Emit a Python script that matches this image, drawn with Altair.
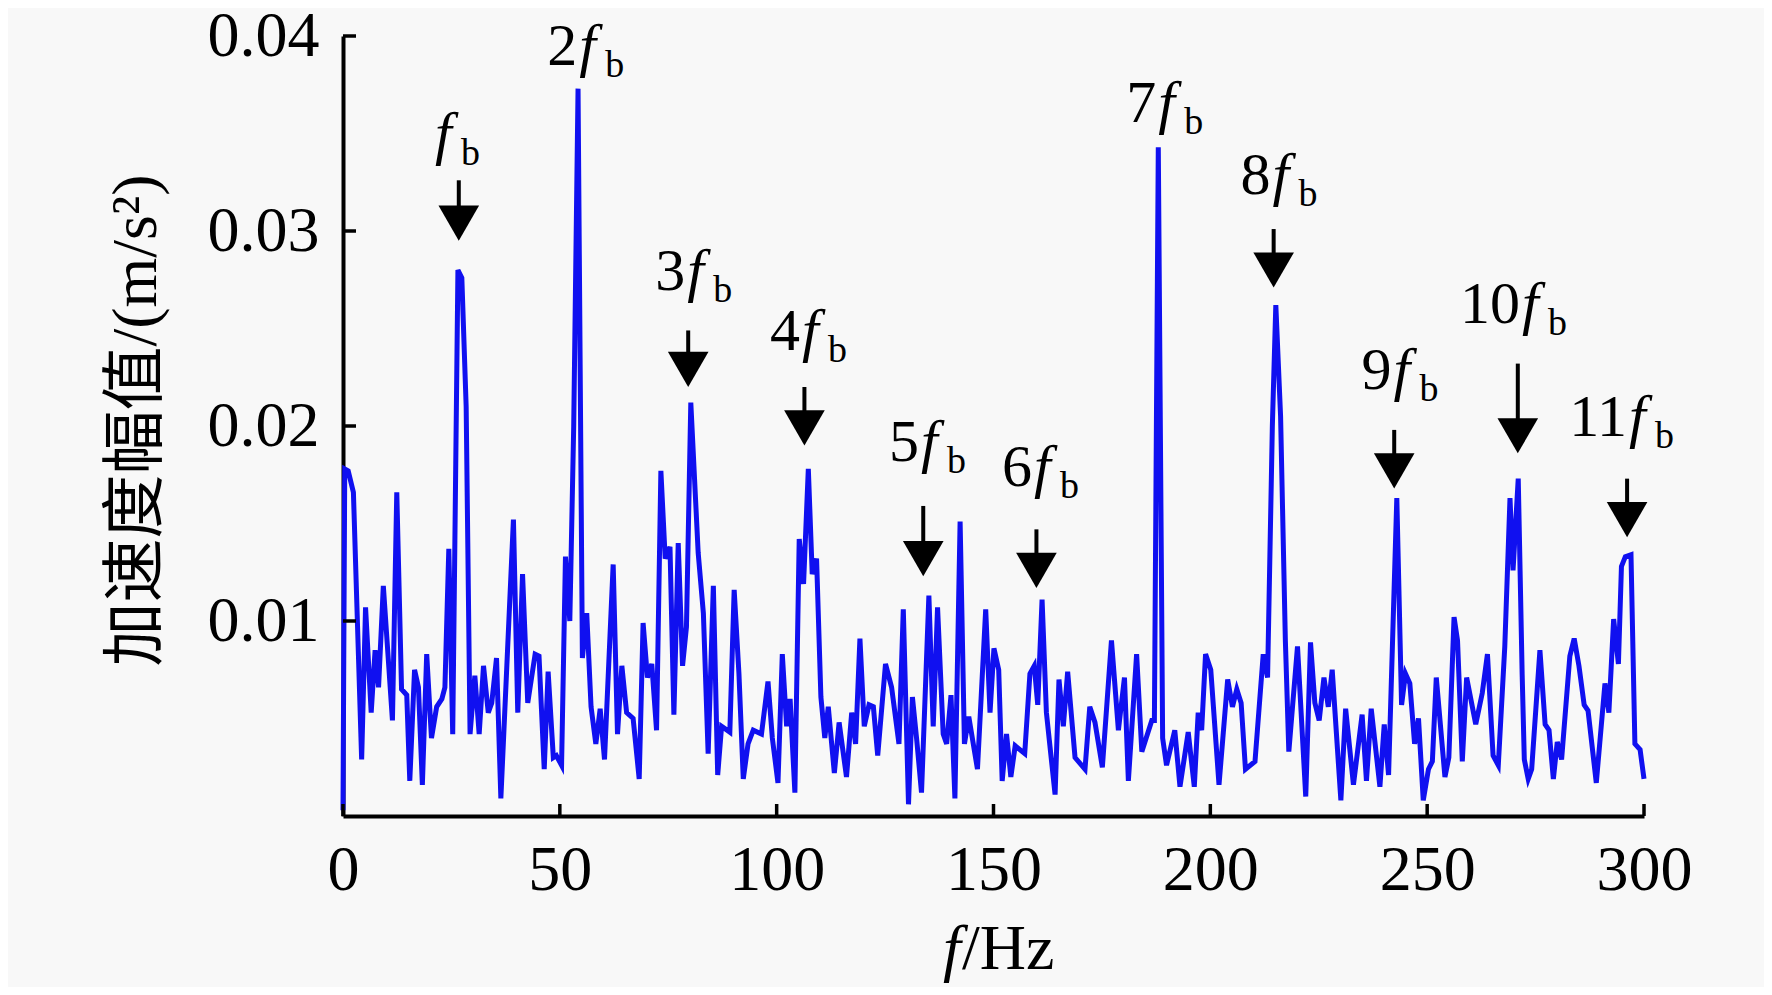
import altair as alt
import pandas as pd

# ---- spectrum (frequency in Hz, amplitude in 1e-3 m/s^2) ----
freq = [0.0, 0.4, 1.2, 2.4, 4.3, 5.2, 6.5, 7.4, 8.2, 9.3, 11.4, 12.4, 13.5, 14.7, 15.4, 16.5, 17.4, 18.3,
        19.3, 20.4, 21.6, 22.8, 23.5, 24.4, 25.3, 26.5, 27.4, 28.4, 29.3, 30.4, 31.4, 32.4, 33.5, 34.3,
        35.4, 36.4, 39.3, 40.3, 41.4, 42.6, 44.3, 45.2, 46.4, 47.3, 48.5, 49.2, 50.4, 51.3, 52.3, 53.2,
        54.2, 55.2, 56.2, 57.2, 58.3, 59.3, 60.3, 62.3, 63.3, 64.3, 65.4, 66.9, 68.3, 69.2, 70.2, 71.2,
        72.3, 73.3, 74.3, 75.4, 76.3, 77.3, 78.3, 79.2, 80.2, 81.9, 83.1, 84.2, 85.4, 86.4, 87.3, 89.2,
        90.2, 91.3, 92.3, 93.4, 94.6, 96.5, 98.0, 99.0, 100.3, 101.3, 102.3, 103.1, 104.2, 105.2, 106.2,
        107.3, 108.2, 109.2, 110.2, 111.1, 111.9, 113.3, 114.4, 116.1, 117.3, 118.2, 119.2, 120.2, 121.3,
        122.3, 123.3, 125.1, 126.5, 128.2, 129.2, 130.4, 131.3, 132.3, 133.4, 135.1, 136.1, 137.1, 138.4,
        139.2, 140.2, 141.1, 142.3, 143.3, 144.3, 146.3, 148.2, 149.2, 150.1, 151.2, 152.0, 153.0, 154.0,
        155.0, 157.2, 158.4, 159.4, 160.2, 161.2, 162.2, 164.2, 165.1, 166.1, 167.1, 168.8, 171.1, 172.2,
        173.4, 175.1, 177.2, 178.8, 180.2, 181.1, 183.0, 184.2, 186.5, 187.1, 188.0, 189.0, 189.9, 191.8,
        193.0, 194.9, 196.3, 197.2, 198.0, 198.9, 200.1, 202.0, 204.0, 205.1, 206.1, 207.1, 208.1, 210.3,
        212.2, 213.2, 214.3, 215.1, 216.2, 217.3, 218.1, 220.1, 222.0, 223.1, 224.1, 225.1, 226.2, 227.2,
        228.1, 230.1, 231.2, 233.0, 235.0, 236.0, 237.1, 239.1, 240.1, 241.1, 243.0, 244.1, 245.0, 246.0,
        247.1, 248.0, 249.1, 250.3, 251.2, 252.1, 254.1, 255.0, 256.2, 257.0, 258.1, 259.1, 261.2, 262.7,
        263.9, 265.2, 266.4, 267.9, 269.1, 269.8, 271.0, 271.9, 272.4, 273.3, 274.1, 276.0, 277.2, 278.1,
        279.1, 280.0, 281.0, 282.9, 283.9, 285.0, 286.2, 287.1, 289.0, 291.0, 291.9, 293.0, 294.1, 294.8,
        295.7, 297.0, 297.9, 299.1, 300.0]
amp_milli = [0.3, 17.8, 17.7, 16.6, 2.9, 10.7, 5.3, 8.5, 6.6, 11.8, 4.9, 16.6, 6.5, 6.2, 1.8, 7.5, 6.6, 1.6,
             8.3, 4.0, 5.6, 6.0, 6.6, 13.7, 4.2, 28.0, 27.6, 21.0, 4.2, 7.2, 4.2, 7.7, 5.3, 5.8,
             8.1, 0.9, 15.2, 5.3, 12.4, 5.8, 8.3, 8.2, 2.4, 7.4, 3.0, 3.1, 2.6, 13.3, 10.0, 20.0,
             37.3, 8.1, 10.4, 5.6, 3.7, 5.5, 2.9, 12.9, 4.2, 7.7, 5.3, 5.0, 1.9, 9.9, 7.1, 7.8,
             4.4, 17.7, 13.2, 13.8, 5.2, 14.0, 7.7, 9.7, 21.2, 13.5, 10.4, 3.2, 11.8, 2.1, 4.6, 4.3,
             11.6, 7.3, 1.9, 3.7, 4.4, 4.2, 6.9, 4.0, 1.7, 8.3, 4.6, 6.0, 1.2, 14.2, 11.9,
             17.8, 12.4, 13.2, 6.1, 4.0, 5.6, 2.2, 4.8, 2.0, 5.3, 3.7, 9.1, 4.6, 5.7,
             5.6, 3.1, 7.8, 6.6, 3.7, 10.6, 0.6, 6.1, 3.9, 1.2, 11.3, 4.6, 10.7, 4.2,
             3.7, 6.2, 0.9, 15.1, 3.7, 5.1, 2.4, 10.6, 5.3, 8.6, 7.5, 1.8, 4.2, 2.0,
             3.6, 3.2, 7.3, 7.7, 5.7, 11.1, 5.3, 1.1, 7.0, 4.6, 7.4, 3.0, 2.4, 5.6,
             4.8, 2.5, 9.0, 4.4, 7.1, 1.8, 8.3, 3.3, 4.9, 4.9, 34.3, 4.0, 2.6, 4.4,
             1.5, 4.3, 1.5, 5.3, 4.4, 8.3, 7.5, 1.6, 7.0, 5.6, 6.5, 5.8, 2.4, 2.8,
             8.3, 7.1, 20.0, 26.2, 20.5, 9.0, 3.3, 8.7, 1.0, 8.9, 5.8, 4.9, 7.1, 5.6,
             7.5, 0.8, 5.5, 1.6, 5.2, 1.8, 5.5, 1.5, 4.7, 2.1, 16.3, 5.7, 7.3, 6.8,
             3.7, 5.0, 0.8, 2.4, 2.8, 7.1, 2.0, 3.0, 10.2, 9.0, 2.8, 7.1, 4.7, 6.3,
             8.3, 3.1, 2.6, 8.7, 16.3, 12.6, 17.3, 7.3, 2.9, 1.9, 2.4, 8.5, 4.7, 4.4,
             1.9, 3.8, 2.9, 8.2, 9.1, 7.7, 5.7, 5.4, 1.7, 6.8, 5.3, 10.1, 7.8, 12.8,
             13.3, 13.4, 3.7, 3.4, 1.9]

x_ticks = [0, 50, 100, 150, 200, 250, 300]
y_ticks = [0.01, 0.02, 0.03, 0.04]

# ---- harmonic labels: multiplier, anchor (Hz), baseline (m/s^2) ----
label_num = ["", "2", "3", "4", "5", "6", "7", "8", "9", "10", "11"]
label_hz = [20.75, 54.0, 78.9, 105.4, 132.8, 158.9, 187.5, 213.9, 241.8, 271.4, 296.1]
label_amp = [0.0340, 0.0385, 0.0270, 0.0239, 0.0182, 0.0169, 0.0356, 0.0319, 0.0219, 0.0253, 0.0195]

# ---- arrows: x (Hz), shaft top, head centre (m/s^2) ----
arrow_hz = [26.7, 79.6, 106.4, 133.8, 159.9, 214.6, 242.4, 270.9, 296.1]
arrow_top = [0.0326, 0.0249, 0.0220, 0.0159, 0.0147, 0.0301, 0.0198, 0.0232, 0.0173]
arrow_head = [0.0304, 0.0229, 0.0199, 0.0132, 0.0126, 0.0280, 0.0177, 0.0195, 0.0152]

W, H = 1301, 780
SERIF = "Liberation Serif"
YTITLE = "加速度幅值/(m/s²)"

spec = pd.DataFrame({"hz": freq, "amp": [a * 1e-3 for a in amp_milli]})
labels = pd.DataFrame({"hz": label_hz, "amp": label_amp, "num": label_num})
arrows = pd.DataFrame({"hz": arrow_hz, "amp": arrow_top, "amp2": arrow_head})
heads = pd.DataFrame({"hz": arrow_hz, "amp": arrow_head})
xt = pd.DataFrame({"hz": x_ticks})
yt = pd.DataFrame({"amp": y_ticks})

xscale = alt.Scale(domain=[0, 300], nice=False, zero=False)
yscale = alt.Scale(domain=[0, 0.04], nice=False)

xaxis = alt.Axis(values=x_ticks, labelFont=SERIF, labelFontSize=64, labelColor="black",
                 ticks=False, grid=False, domainColor="black", domainWidth=4,
                 labelPadding=22, title=None, labelFlush=False)
yaxis = alt.Axis(values=y_ticks, format=".2f", labelFont=SERIF, labelFontSize=64, labelColor="black",
                 ticks=False, grid=False, domainColor="black", domainWidth=4, labelPadding=24,
                 title=YTITLE, titleFont="Liberation Serif, Noto Sans CJK SC", titleFontSize=64,
                 titleFontWeight="normal", titleColor="black", titleX=-207, titleY=H / 2 - 6,
                 titleBaseline="middle", titleAlign="center", titleAngle=270)

X = alt.X("hz:Q", scale=xscale, axis=xaxis)
Y = alt.Y("amp:Q", scale=yscale, axis=yaxis)

line = alt.Chart(spec).mark_line(color="#1010f0", strokeWidth=5).encode(x=X, y=Y, order="hz:Q")

xtick = alt.Chart(xt).mark_rule(color="black", strokeWidth=3.5).encode(
    x=X, y=alt.value(H), y2=alt.value(H - 12))
ytick = alt.Chart(yt).mark_rule(color="black", strokeWidth=3.5).encode(
    y=Y, x=alt.value(0), x2=alt.value(13))

shaft = alt.Chart(arrows).mark_rule(color="black", strokeWidth=4).encode(
    x=X, y=Y, y2=alt.Y2("amp2:Q"))
head = alt.Chart(heads).mark_point(shape="triangle-down", filled=True, size=1650,
                                   color="black", opacity=1, strokeWidth=0).encode(x=X, y=Y)

num_txt = alt.Chart(labels).mark_text(align="right", baseline="alphabetic", font=SERIF,
                                      fontSize=60, color="black").encode(x=X, y=Y, text="num:N")
f_txt = alt.Chart(labels).mark_text(align="left", baseline="alphabetic", font=SERIF, fontSize=60,
                                    fontStyle="italic", color="black", dx=2, text="f").encode(x=X, y=Y)
b_txt = alt.Chart(labels).mark_text(align="left", baseline="alphabetic", font=SERIF, fontSize=38,
                                    color="black", dx=28, dy=12, text="b").encode(x=X, y=Y)

xt_f = alt.Chart(pd.DataFrame({"t": ["f"]})).mark_text(
    align="left", baseline="alphabetic", font=SERIF, fontSize=64, fontStyle="italic", color="black"
).encode(x=alt.value(600), y=alt.value(933), text="t:N")
xt_hz = alt.Chart(pd.DataFrame({"t": ["/Hz"]})).mark_text(
    align="left", baseline="alphabetic", font=SERIF, fontSize=64, color="black"
).encode(x=alt.value(619), y=alt.value(933), text="t:N")

chart = alt.layer(line, xtick, ytick, shaft, head, num_txt, f_txt, b_txt, xt_f, xt_hz).properties(
    width=W, height=H,
    padding={"left": 335, "top": 28, "right": 120, "bottom": 171},
    autosize=alt.AutoSizeParams(type="none"),
    background="#f8f8f8",
).configure_view(stroke=None)

chart.save("out.html", embed_options={"renderer": "svg", "actions": False})
